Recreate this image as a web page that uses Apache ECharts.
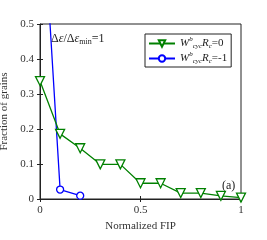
<!DOCTYPE html>
<html><head><meta charset="utf-8">
<script src="https://cdn.jsdelivr.net/npm/echarts@6/dist/echarts.min.js"></script>
<style>html,body{margin:0;padding:0;background:#fff}#c{width:267px;height:240px}</style>
</head><body><div id="c"></div>
<script>
const xValues = [0, 0.1, 0.2, 0.3, 0.4, 0.5, 0.6, 0.7, 0.8, 0.9, 1.0];
const greenValues = [0.337, 0.186, 0.145, 0.099, 0.099, 0.045, 0.045, 0.017, 0.017, 0.009, 0.004];
const blueX = [0, 0.1, 0.2];
const blueValues = [0.97, 0.027, 0.0095];
const xTicks = [0, 0.5, 1];
const yTicks = [0, 0.1, 0.2, 0.3, 0.4, 0.5];

const F = 'Liberation Serif, Times New Roman, serif';
const chart = echarts.init(document.getElementById('c'), null, {renderer: 'canvas'});
const rich = {
  w: {fontFamily: F, fontStyle: 'italic', fontSize: 11, color: '#222'},
  sup: {fontFamily: F, fontStyle: 'italic', fontSize: 7, color: '#222', padding: [0,0,8,0]},
  sub: {fontFamily: F, fontStyle: 'italic', fontSize: 7, color: '#222', padding: [6,0,0,0]},
  n: {fontFamily: F, fontSize: 11, color: '#222'}
};
const legName = (v) => '{w|W}{sup|b}{sub|cyc}{w|R}{sub|c}{n|=' + v + '}';
chart.setOption({
  animation: false,
  grid: {left: 40, right: 26, top: 24, bottom: 41, containLabel: false, outerBoundsMode: 'none', show: true, borderColor: '#222', borderWidth: 1},
  xAxis: [{
    type: 'value', min: 0, max: 1, interval: 0.5,
    name: 'Normalized FIP', nameLocation: 'middle', nameGap: 22,
    nameTextStyle: {fontFamily: F, fontSize: 11, color: '#333'},
    axisLine: {show: true, lineStyle: {color: '#222'}},
    axisTick: {show: true, inside: true, length: 3, lineStyle: {color: '#222'}},
    axisLabel: {fontFamily: F, fontSize: 11, color: '#333', margin: 6, formatter: v => String(v)},
    splitLine: {show: false}
  }, {
    type: 'value', min: 0, max: 1, interval: 0.5, position: 'top',
    axisLine: {show: false}, axisTick: {show: true, inside: true, length: 3, lineStyle: {color: '#222'}},
    axisLabel: {show: false}, splitLine: {show: false}
  }],
  yAxis: [{
    type: 'value', min: 0, max: 0.5, interval: 0.1,
    name: 'Fraction of grains', nameLocation: 'middle', nameGap: 23,
    nameTextStyle: {fontFamily: F, fontSize: 11, color: '#333'},
    axisLine: {show: true, lineStyle: {color: '#222'}},
    axisTick: {show: true, inside: true, length: 3, lineStyle: {color: '#222'}},
    axisLabel: {fontFamily: F, fontSize: 11, color: '#333', margin: 6, formatter: v => (v === 0 ? '0' : v.toFixed(1))},
    splitLine: {show: false}
  }, {
    type: 'value', min: 0, max: 0.5, interval: 0.1, position: 'right',
    axisLine: {show: false}, axisTick: {show: true, inside: true, length: 3, lineStyle: {color: '#222'}},
    axisLabel: {show: false}, splitLine: {show: false}
  }],
  legend: {
    left: 145, top: 34, orient: 'vertical', itemWidth: 26, itemHeight: 8, itemGap: 1,
    padding: [2, 4, 2, 3], borderColor: '#222', borderWidth: 1, backgroundColor: '#fff',
    textStyle: {fontFamily: F, fontSize: 11, color: '#222', rich: rich},
    formatter: (name) => name === 'g' ? legName('0') : legName('-1'),
    data: ['g', 'b']
  },
  graphic: [
    {type: 'text', left: 51, top: 33, style: {
      rich: {e: {fontFamily: F, fontStyle: 'italic', fontSize: 12, fill: '#222'}, n: {fontFamily: F, fontSize: 12, fill: '#222'}, s: {fontFamily: F, fontSize: 8, fill: '#222', padding: [6,0,0,0]}},
      text: '{n|Δ}{e|ε}{n|/Δ}{e|ε}{s|min}{n|=1}'
    }},
    {type: 'text', left: 222, top: 180, style: {text: '(a)', fontFamily: F, fontSize: 12, fill: '#222'}}
  ],
  series: [{
    name: 'g', type: 'line', data: xValues.map((x, i) => [x, greenValues[i]]),
    symbol: 'triangle', symbolRotate: 180, symbolSize: 9, showAllSymbol: true,
    itemStyle: {color: '#fff', borderColor: '#008000', borderWidth: 1.3},
    lineStyle: {color: '#008000', width: 1.3}, clip: true, z: 3
  }, {
    name: 'b', type: 'line', data: blueX.map((x, i) => [x, blueValues[i]]),
    symbol: 'circle', symbolSize: 7, showAllSymbol: true,
    itemStyle: {color: '#fff', borderColor: '#0000ff', borderWidth: 1.3},
    lineStyle: {color: '#0000ff', width: 1.3}, clip: true, z: 2
  }]
});
</script></body></html>
